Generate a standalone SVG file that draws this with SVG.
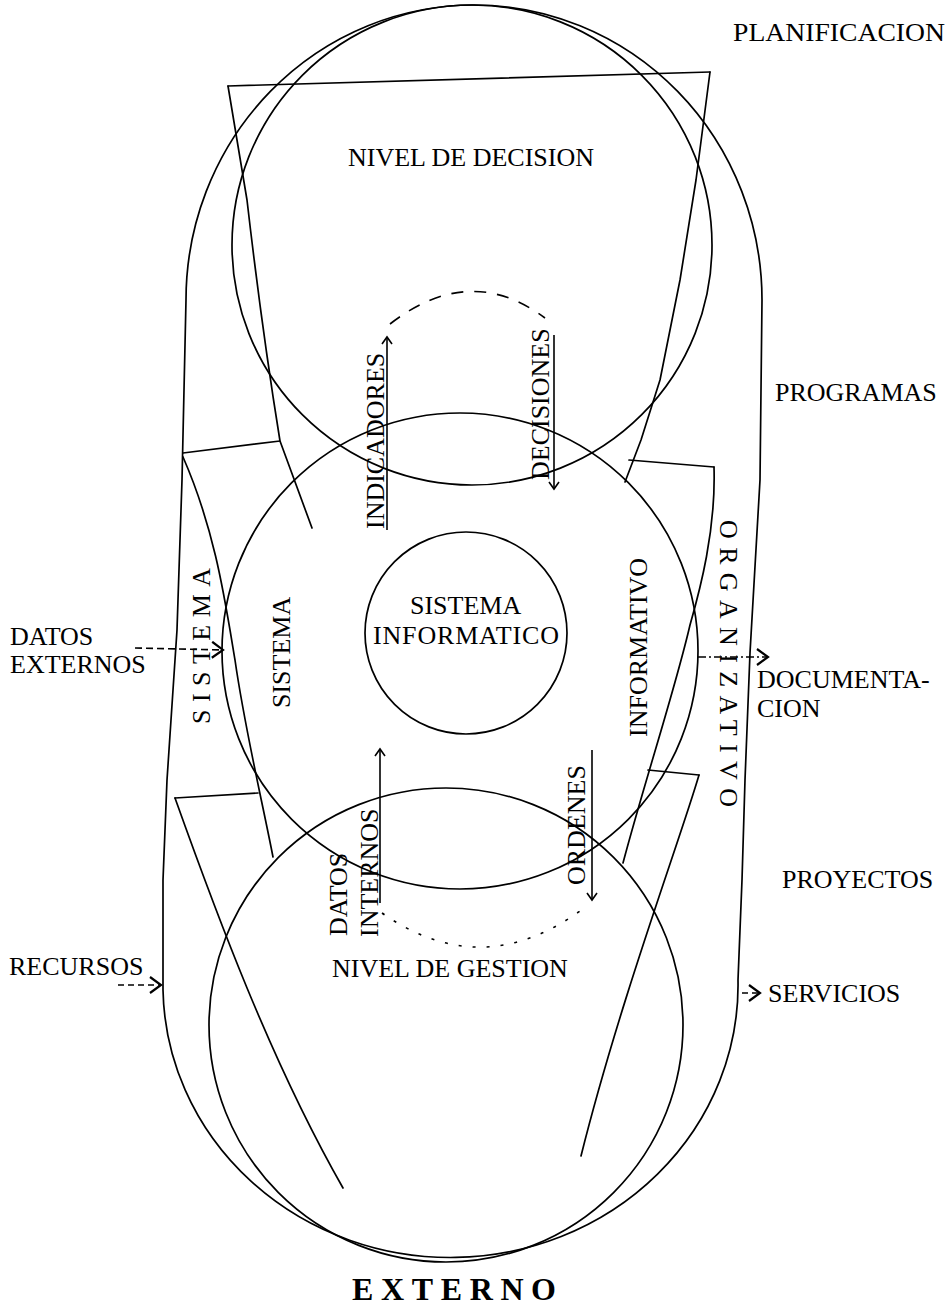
<svg xmlns="http://www.w3.org/2000/svg" width="949" height="1313" viewBox="0 0 949 1313">
<style>
  .ln { fill: none; stroke: #000; stroke-width: 1.7; stroke-linejoin: round; stroke-linecap: round; }
  .cn { fill: none; stroke: #000; stroke-width: 1.6; }
  .t { font-family: "Liberation Serif", "Times New Roman", serif; font-size: 26px; fill: #000; }
  .tb { font-family: "Liberation Serif", "Times New Roman", serif; font-size: 32px; font-weight: bold; fill: #000; }
</style>
<defs>
  <marker id="chev" markerUnits="userSpaceOnUse" markerWidth="12" markerHeight="14" refX="8" refY="6" orient="auto">
    <path d="M1,1 L8,6 L1,11" fill="none" stroke="#000" stroke-width="1.6"/>
  </marker>
  <marker id="chevB" markerUnits="userSpaceOnUse" markerWidth="16" markerHeight="20" refX="12" refY="9" orient="auto">
    <path d="M1,1 L12,9 L1,17" fill="none" stroke="#000" stroke-width="2.2"/>
  </marker>
</defs>
<rect width="949" height="1313" fill="#fff"/>

<!-- outer organisational envelope with its side bands and funnels -->
<g id="sistema-organizativo">
  <path class="ln" d="M186,300 A288,295 0 0 1 762,300 L760,480 L750,653 L745,780 L742,880 L738,980 A287,272 0 0 1 163,990 L163,880 L167,780 L177,630 L182,480 Z"/>
  <!-- upper funnel -->
  <path class="ln" d="M228,86 L710,72"/>
  <path class="ln" d="M228,86 L247,200 Q262,330 280,441 L312,528"/>
  <path class="ln" d="M710,72 L696,180 L680,280 L660,380 L641,440 L625,482"/>
  <!-- side bands -->
  <path class="ln" d="M183,453 L280,441"/>
  <path class="ln" d="M183,457 C215,530 225,600 235,660 C245,730 262,800 273,857"/>
  <path class="ln" d="M629,460 L714,467"/>
  <path class="ln" d="M714,467 C716,530 700,590 690,625 C675,690 645,780 623,863"/>
  <!-- lower funnel -->
  <path class="ln" d="M175,798 L258,793"/>
  <path class="ln" d="M175,798 C215,910 270,1060 343,1188"/>
  <path class="ln" d="M648,770 L699,775"/>
  <path class="ln" d="M699,775 C680,840 620,1000 581,1156"/>
  <text class="t" transform="translate(720,520) rotate(90)" textLength="287" lengthAdjust="spacing">ORGANIZATIVO</text>
  <text class="t" transform="translate(210,724) rotate(-90)" textLength="156" lengthAdjust="spacing">SISTEMA</text>
</g>

<g id="nivel-decision">
  <circle class="ln" cx="472" cy="245" r="240"/>
  <text class="t" x="348" y="166">NIVEL DE DECISION</text>
</g>

<g id="sistema-informativo">
  <circle class="ln" cx="460" cy="651" r="238"/>
  <text class="t" transform="translate(290,708) rotate(-90)">SISTEMA</text>
  <text class="t" transform="translate(647,737) rotate(-90)">INFORMATIVO</text>
</g>

<g id="sistema-informatico">
  <circle class="ln" cx="466" cy="633" r="101"/>
  <text class="t" x="410" y="614">SISTEMA</text>
  <text class="t" x="373" y="644" textLength="186" lengthAdjust="spacing">INFORMATICO</text>
</g>

<g id="nivel-gestion">
  <circle class="ln" cx="446" cy="1025" r="237"/>
  <text class="t" x="332" y="977">NIVEL DE GESTION</text>
</g>

<!-- flows -->
<g id="connectors">
  <path class="cn" d="M387,530 L387,337" marker-end="url(#chev)"/>
  <path class="cn" d="M390,324 Q470,262 545,318" stroke-dasharray="12 11"/>
  <path class="cn" d="M554,335 L554,489" marker-end="url(#chev)"/>
  <path class="cn" d="M380,903 L380,749" marker-end="url(#chev)"/>
  <path class="cn" d="M592,750 L592,900" marker-end="url(#chev)"/>
  <path class="cn" d="M382,913 Q485,985 588,905" stroke-dasharray="3 11"/>
  <path class="cn" d="M135,648 L223,650" stroke-dasharray="7 4" marker-end="url(#chevB)"/>
  <path class="cn" d="M698,657 L768,657" stroke-dasharray="8 3 2 3" marker-end="url(#chevB)"/>
  <path class="cn" d="M118,985 L161,985" stroke-dasharray="6 4" marker-end="url(#chevB)"/>
  <path class="cn" d="M742,993 L760,993" stroke-dasharray="6 4" marker-end="url(#chevB)"/>
</g>

<g id="flow-labels">
  <text class="t" transform="translate(384,529) rotate(-90)">INDICADORES</text>
  <text class="t" transform="translate(549,480) rotate(-90)">DECISIONES</text>
  <text class="t" transform="translate(347,936) rotate(-90)">DATOS</text>
  <text class="t" transform="translate(378,937) rotate(-90)">INTERNOS</text>
  <text class="t" transform="translate(585,885) rotate(-90)">ORDENES</text>
  <text class="t" x="10" y="645">DATOS</text>
  <text class="t" x="10" y="673">EXTERNOS</text>
  <text class="t" x="757" y="688">DOCUMENTA-</text>
  <text class="t" x="757" y="717">CION</text>
  <text class="t" x="9" y="975">RECURSOS</text>
  <text class="t" x="768" y="1002">SERVICIOS</text>
</g>

<g id="horizon-labels">
  <text class="t" x="733" y="41" textLength="212" lengthAdjust="spacingAndGlyphs">PLANIFICACION</text>
  <text class="t" x="775" y="401">PROGRAMAS</text>
  <text class="t" x="782" y="888">PROYECTOS</text>
  <text class="tb" x="352" y="1300" textLength="204" lengthAdjust="spacing">EXTERNO</text>
</g>
</svg>
